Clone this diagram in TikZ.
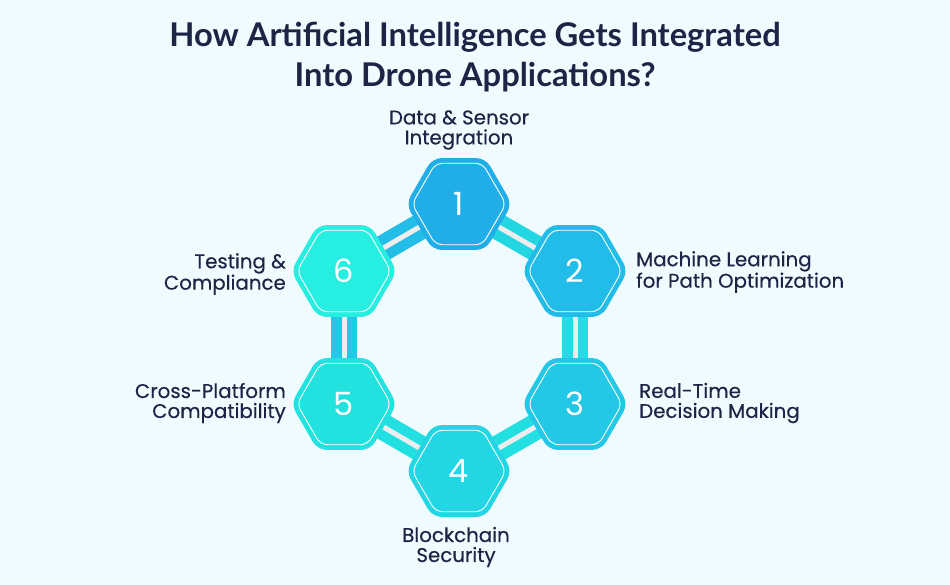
\documentclass[tikz,border=0pt]{standalone}
\usepackage{fontspec}
\setmainfont{Lato}
\newfontfamily\numfont{Poppins}
\newfontfamily\labfont[FakeBold=0.35]{Poppins}
\usetikzlibrary{shapes.geometric}
\definecolor{bg}{HTML}{F0FBFF}
\definecolor{ink}{HTML}{1B2646}
\definecolor{hA}{HTML}{20AEE8}
\definecolor{hB}{HTML}{22BCE8}
\definecolor{hC}{HTML}{22C8E6}
\definecolor{hD}{HTML}{22D6E3}
\definecolor{hE}{HTML}{22E2E0}
\definecolor{hF}{HTML}{26EEE0}
\definecolor{cA}{HTML}{22D6E2}
\definecolor{cB}{HTML}{22DDE6}
\definecolor{cC}{HTML}{22E0E2}
\definecolor{cD}{HTML}{22C8E6}
\definecolor{cE}{HTML}{22BEE8}
\definecolor{stripe}{HTML}{EDEDED}
\begin{document}
\begin{tikzpicture}[x=1pt,y=-1pt,
  hexa/.style={regular polygon, regular polygon sides=6, minimum size=106pt, inner sep=0pt,
    rounded corners=9pt, text=white, font=\numfont\fontsize{32}{32}\selectfont},
  hexin/.style={regular polygon, regular polygon sides=6, minimum size=94pt, inner sep=0pt,
    draw=white, line width=0.9pt, rounded corners=7pt},
  bar/.style={line width=26pt},
  stripe/.style={line width=5pt, draw=stripe},
  lab/.style={text=ink, inner sep=0pt, font=\labfont\fontsize{19.8}{20}\selectfont},
  ttl/.style={text=ink, inner sep=0pt, align=center, font=\bfseries\fontsize{32.7}{40}\selectfont}]
\fill[bg] (0,0) rectangle (950,585);
\useasboundingbox (0,0) rectangle (950,585);

\coordinate (c1) at (459,204);
\coordinate (c2) at (575,271);
\coordinate (c3) at (575,404);
\coordinate (c4) at (459,471);
\coordinate (c5) at (344,404);
\coordinate (c6) at (344,271);

% connectors
\draw[bar, cA] (c1) -- (c2);
\draw[bar, cB] (c2) -- (c3);
\draw[bar, cC] (c3) -- (c4);
\draw[bar, cC] (c4) -- (c5);
\draw[bar, cD] (c5) -- (c6);
\draw[bar, cE] (c6) -- (c1);
\draw[stripe] (c1) -- (c2);
\draw[stripe] (c2) -- (c3);
\draw[stripe] (c3) -- (c4);
\draw[stripe] (c4) -- (c5);
\draw[stripe] (c5) -- (c6);
\draw[stripe] (c6) -- (c1);

% hexagons
\node[hexa, fill=hA] (h1) at (c1) {1};
\node[hexa, fill=hB] (h2) at (c2) {2};
\node[hexa, fill=hC] (h3) at (c3) {3};
\node[hexa, fill=hD] (h4) at (c4) {4};
\node[hexa, fill=hE] (h5) at (c5) {5};
\node[hexa, fill=hF] (h6) at (c6) {6};
\node[hexin] (i1) at (c1) {};
\node[hexin] (i2) at (c2) {};
\node[hexin] (i3) at (c3) {};
\node[hexin] (i4) at (c4) {};
\node[hexin] (i5) at (c5) {};
\node[hexin] (i6) at (c6) {};

% title
\node[ttl] (title) at (475,57) {How Artificial Intelligence Gets Integrated\\Into Drone Applications?};

% labels
\node[lab, align=center] (t1) at (459,130) {Data \& Sensor\\Integration};
\node[lab, align=left, anchor=west] (t2) at (636,272) {Machine Learning\\for Path Optimization};
\node[lab, align=left, anchor=west] (t3) at (639,403) {Real-Time\\Decision Making};
\node[lab, align=center] (t4) at (456,547) {Blockchain\\Security};
\node[lab, align=right, anchor=east] (t5) at (286,403) {Cross-Platform\\Compatibility};
\node[lab, align=right, anchor=east] (t6) at (286,274) {Testing \&\\Compliance};
\end{tikzpicture}
\end{document}
